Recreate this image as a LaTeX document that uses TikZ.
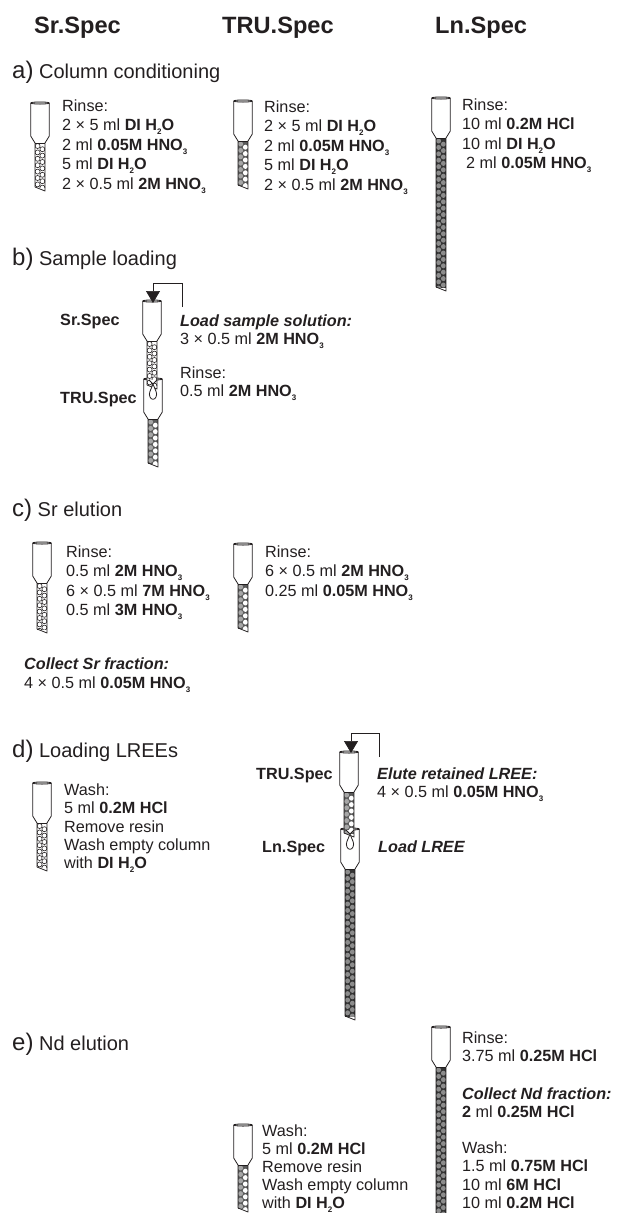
\documentclass[tikz,border=0pt]{standalone}
\usepackage{fontspec}
\setmainfont{Liberation Sans}
\usetikzlibrary{arrows.meta}
\definecolor{inkc}{HTML}{231F20}
\definecolor{trubg}{HTML}{5A5A5A}
\definecolor{trubead}{HTML}{A6A6A6}
\definecolor{lnbg}{HTML}{333333}
\definecolor{lnbead}{HTML}{8C8C8C}
\newcommand{\lowsub}[1]{\raisebox{-0.45ex}{\fontsize{8}{8}\selectfont #1}}
\newcommand{\water}{\textbf{DI H\lowsub{2}O}}
\newcommand{\nitric}[1]{\textbf{#1M HNO\lowsub{3}}}
\newcommand{\hcl}[1]{\textbf{#1M HCl}}
% column: x centre, y top, length, resin colour, left bead, right bead
\newcommand{\resincol}[6]{%
\begin{scope}[shift={(#1,#2)}]
	\fill[white] (-9.3,0)--(-9.3,33)--(-5,40)--(-5,#3-4)--(5,#3)--(5,40)--(9.3,33)--(9.3,0)--cycle;
	\begin{scope}
		\clip (-5,40) rectangle (5,#3-4);
		\fill[#4] (-5,40) rectangle (5,#3);
		\pgfmathtruncatemacro{\nbeads}{(#3-40)/6.4}
		\foreach \k in {0,...,\nbeads}{
			\path[#5] (-2.4,43+6.4*\k) circle (2.5);
			\path[#6] (2.4,46.2+6.4*\k) circle (2.5);
		}
	\end{scope}
	\draw[colline] (-9.3,0)--(-9.3,33)--(-5,40)--(-5,#3-4)--(5,#3)--(5,40)--(9.3,33)--(9.3,0);
	\draw[colline] (-5,40)--(5,40);
	\draw[colline,fill=gray!45] (0,0) ellipse (9.3 and 1.1);
\end{scope}}
% drop under a column tip
\newcommand{\resindrop}[2]{%
\draw[colline,fill=white] (#1,#2) .. controls (#1-2,#2+6) and (#1-5,#2+9) .. (#1-3,#2+13)
	.. controls (#1-2,#2+16) and (#1+2,#2+16) .. (#1+3,#2+13)
	.. controls (#1+5,#2+9) and (#1+2,#2+6) .. (#1,#2)
	(#1-4,#2-4)--(#1,#2)--(#1+4,#2-4);}
\tikzset{
	colline/.style={inkc,line width=0.8pt,line join=round},
	srbead/.style={draw=inkc,line width=0.6pt,fill=white},
	trul/.style={fill=trubead},
	trur/.style={fill=white},
	lnb/.style={fill=lnbead},
	head/.style={anchor=base west,inner sep=0,font=\fontsize{23.6}{23.6}\selectfont\bfseries,text=inkc},
	part/.style={anchor=base west,inner sep=0,font=\fontsize{20}{20}\selectfont,text=inkc},
	side/.style={anchor=base west,inner sep=0,font=\fontsize{16.2}{16.2}\selectfont\bfseries,text=inkc},
	steps/.style={anchor=north west,inner sep=0,align=left,font=\fontsize{16.2}{19.5}\selectfont,text=inkc},
	tight/.style={steps,font=\fontsize{16.2}{18.3}\selectfont},
	feed/.style={inkc,line width=0.7pt,-{Triangle[length=12pt,width=14pt]}},
}
\begin{document}
\begin{tikzpicture}[x=1pt,y=-1pt]
	\useasboundingbox (0,0) rectangle (632,1213);
	\node[head] (srhead) at (34,33) {Sr.Spec};
	\node[head] (truhead) at (222,33) {TRU.Spec};
	\node[head] (lnhead) at (435,33) {Ln.Spec};
	% a
	\node[part] (parta) at (12,78) {{\fontsize{24}{24}\selectfont a)} Column conditioning};
	\resincol{40}{103}{88}{white}{srbead}{srbead}
	\resincol{243}{101}{88}{trubg}{trul}{trur}
	\resincol{441}{98}{193}{lnbg}{lnb}{lnb}
	\node[steps] (rinsea1) at (62,99.5) {Rinse:\\2 × 5 ml \water\\2 ml \nitric{0.05}\\5 ml \water\\2 × 0.5 ml \nitric{2}};
	\node[steps] (rinsea2) at (264,100.5) {Rinse:\\2 × 5 ml \water\\2 ml \nitric{0.05}\\5 ml \water\\2 × 0.5 ml \nitric{2}};
	\node[steps] (rinsea3) at (462,98.5) {Rinse:\\10 ml \hcl{0.2}\\10 ml \water\\\hspace{4pt}2 ml \nitric{0.05}};
	% b
	\node[part] (partb) at (12,265) {{\fontsize{24}{24}\selectfont b)} Sample loading};
	\resincol{153}{379}{88}{trubg}{trul}{trur}
	\resincol{152}{301}{88}{white}{srbead}{srbead}
	\resindrop{153}{384}
	\node[side] (srb) at (60,325) {Sr.Spec};
	\node[side] (trub) at (60,403) {TRU.Spec};
	\node[tight] (loadb) at (180,314.5) {\textbf{\textit{Load sample solution:}}\\3 × 0.5 ml \nitric{2}};
	\node[tight] (rinseb) at (180,366.5) {Rinse:\\0.5 ml \nitric{2}};
	\coordinate (feedb) at (182,307);
	\coordinate (tipb) at (153,303);
	\draw[feed] (feedb) |- (153,283) -- (tipb);
	% c
	\node[part] (partc) at (12,516) {{\fontsize{24}{24}\selectfont c)} Sr elution};
	\resincol{42}{543}{90}{white}{srbead}{srbead}
	\resincol{243}{544}{88}{trubg}{trul}{trur}
	\node[steps] (rinsec1) at (66,545.5) {Rinse:\\0.5 ml \nitric{2}\\6 × 0.5 ml \nitric{7}\\0.5 ml \nitric{3}};
	\node[steps] (rinsec2) at (265,545.5) {Rinse:\\6 × 0.5 ml \nitric{2}\\0.25 ml \nitric{0.05}};
	\node[tight,font=\fontsize{16.2}{19}\selectfont] (collectc) at (24,657.5) {\textbf{\textit{Collect Sr fraction:}}\\4 × 0.5 ml \nitric{0.05}};
	% d
	\node[part] (partd) at (12,757) {{\fontsize{24}{24}\selectfont d)} Loading LREEs};
	\resincol{42}{783}{88}{white}{srbead}{srbead}
	\node[tight] (washd) at (64,783.5) {Wash:\\5 ml \hcl{0.2}\\Remove resin\\Wash empty column\\with \water};
	\resincol{350}{829}{191}{lnbg}{lnb}{lnb}
	\resincol{349}{752}{85}{trubg}{trul}{trur}
	\resindrop{350}{834}
	\node[side] (trud) at (256,779) {TRU.Spec};
	\node[side] (lnd) at (262,852) {Ln.Spec};
	\node[tight] (elute) at (377,767.5) {\textbf{\textit{Elute retained LREE:}}\\4 × 0.5 ml \nitric{0.05}};
	\node[side,font=\fontsize{16.2}{16.2}\selectfont\bfseries\itshape] (loadd) at (378,852) {Load LREE};
	\coordinate (feedd) at (379,757);
	\coordinate (tipd) at (351,753);
	\draw[feed] (feedd) |- (351,733) -- (tipd);
	% e
	\node[part] (parte) at (12,1050) {{\fontsize{24}{24}\selectfont e)} Nd elution};
	\resincol{243}{1125}{87}{trubg}{trul}{trur}
	\resincol{441}{1027}{200}{lnbg}{lnb}{lnb}
	\node[tight,font=\fontsize{16.2}{18}\selectfont] (washe1) at (262,1124.5) {Wash:\\5 ml \hcl{0.2}\\Remove resin\\Wash empty column\\with \water};
	\node[tight] (rinsee) at (462,1031.5) {Rinse:\\3.75 ml \hcl{0.25}};
	\node[tight] (collecte) at (462,1087.5) {\textbf{\textit{Collect Nd fraction:}}\\\textbf{2} ml \hcl{0.25}};
	\node[tight] (washe2) at (462,1141.5) {Wash:\\1.5 ml \hcl{0.75}\\10 ml \hcl{6}\\10 ml \hcl{0.2}};
\end{tikzpicture}
\end{document}
